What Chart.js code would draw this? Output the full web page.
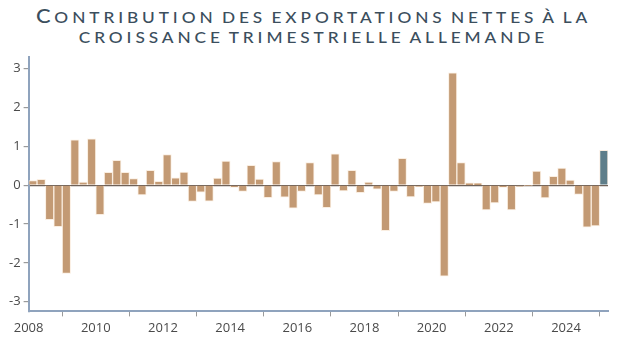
<!DOCTYPE html>
<html>
<head>
<meta charset="utf-8">
<script src="https://cdn.jsdelivr.net/npm/chart.js@4"></script>
<style>
  body { margin: 0; background: #fff; }
  #wrap { position: relative; width: 617px; height: 343px; }
  #titre {
    position: absolute; left: 5px; top: 5px; width: 617px;
    text-align: center; font-family: Lato, sans-serif;
    color: #3b4e5d; letter-spacing: 3.4px; word-spacing: -2.5px; font-weight: 500;
    transform: scaleX(1.15); transform-origin: 50% 0;
  }
  #titre div { height: 21px; line-height: 21px; }
  #titre .sc { text-transform: uppercase; font-size: 15px; }
  #titre .c { font-size: 19px; }
  canvas { position: absolute; left: 0; top: 0; }
</style>
</head>
<body>
<div id="wrap">
  <div id="titre">
    <div><span class="c">C</span><span class="sc">ontribution des exportations nettes à la</span></div>
    <div><span class="sc">croissance trimestrielle allemande</span></div>
  </div>
  <canvas id="graph" width="617" height="343"></canvas>
</div>
<script>
// trimestres 2008 T1 -> 2025 T1
const trimestres = [
  "2008T1","2008T2","2008T3","2008T4","2009T1","2009T2","2009T3","2009T4",
  "2010T1","2010T2","2010T3","2010T4","2011T1","2011T2","2011T3","2011T4",
  "2012T1","2012T2","2012T3","2012T4","2013T1","2013T2","2013T3","2013T4",
  "2014T1","2014T2","2014T3","2014T4","2015T1","2015T2","2015T3","2015T4",
  "2016T1","2016T2","2016T3","2016T4","2017T1","2017T2","2017T3","2017T4",
  "2018T1","2018T2","2018T3","2018T4","2019T1","2019T2","2019T3","2019T4",
  "2020T1","2020T2","2020T3","2020T4","2021T1","2021T2","2021T3","2021T4",
  "2022T1","2022T2","2022T3","2022T4","2023T1","2023T2","2023T3","2023T4",
  "2024T1","2024T2","2024T3","2024T4","2025T1"
];

// contribution en points de %
const contribution = [
  0.12, 0.15, -0.89, -1.07, -2.27, 1.17, 0.08, 1.19,
  -0.76, 0.33, 0.64, 0.33, 0.17, -0.25, 0.38, 0.10,
  0.79, 0.19, 0.34, -0.42, -0.18, -0.41, 0.18, 0.62,
  -0.06, -0.16, 0.51, 0.16, -0.32, 0.61, -0.31, -0.59,
  -0.16, 0.58, -0.25, -0.58, 0.81, -0.15, 0.38, -0.19,
  0.08, -0.10, -1.17, -0.16, 0.69, -0.30, -0.04, -0.47,
  -0.43, -2.34, 2.89, 0.58, 0.06, 0.05, -0.64, -0.46,
  -0.06, -0.64, -0.03, -0.01, 0.36, -0.33, 0.23, 0.44,
  0.13, -0.24, -1.08, -1.05, 0.90
];

const anneesTicks = [2008, 2010, 2012, 2014, 2016, 2018, 2020, 2022, 2024];
const valeursTicks = [-3, -2, -1, 0, 1, 2, 3];

// position du trimestre sur l'axe (milieu du trimestre)
const pos = (t) => {
  const an = parseInt(t.slice(0, 4));
  const q = parseInt(t.slice(5));
  return an + (q - 1) / 4 + 0.125;
};

const points = trimestres.map((t, i) => ({ x: pos(t), y: contribution[i] }));
const couleurs = trimestres.map((t, i) => (i === trimestres.length - 1 ? "#5e7e8a" : "#c39a74"));

const police = { family: "'Open Sans', sans-serif", size: 13 };

new Chart(document.getElementById("graph"), {
  type: "bar",
  data: {
    datasets: [
      {
        data: points,
        backgroundColor: couleurs,
        borderColor: "rgba(250,236,222,0.9)",
        borderWidth: 1,
        barPercentage: 1,
        categoryPercentage: 1,
      },
    ],
  },
  options: {
    responsive: false,
    animation: false,
    layout: { padding: { top: 57, right: 9, bottom: 3, left: 6 } },
    plugins: { legend: { display: false }, tooltip: { enabled: false } },
    scales: {
      x: {
        type: "linear",
        offset: false,
        min: 2008,
        max: 2025.25,
        afterBuildTicks: (s) => {
          s.ticks = anneesTicks.map((v) => ({ value: v }));
        },
        ticks: {
          callback: (v) => String(v),
          color: "#4a4a4a",
          font: police,
          padding: 4,
          maxRotation: 0,
          autoSkip: false,
        },
        grid: { drawOnChartArea: false, tickLength: 5, tickColor: "#9a9a9a" },
        border: { color: "#8fa3bd", width: 2 },
      },
      y: {
        min: -3.25,
        max: 3.3,
        afterBuildTicks: (s) => {
          s.ticks = valeursTicks.map((v) => ({ value: v }));
        },
        ticks: { color: "#4a4a4a", font: police, padding: 3 },
        grid: {
          color: (c) => (c.tick && c.tick.value === 0 ? "#6f6259" : "rgba(0,0,0,0)"),
          lineWidth: 1.2,
          tickLength: 5,
          tickColor: "#9a9a9a",
        },
        border: { color: "#8fa3bd", width: 2 },
      },
    },
  },
});
</script>
</body>
</html>
